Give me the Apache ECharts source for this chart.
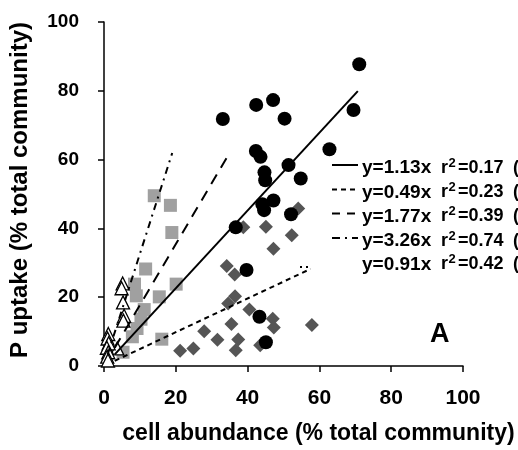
<!DOCTYPE html>
<html>
<head>
<meta charset="utf-8">
<script src="https://cdn.jsdelivr.net/npm/echarts@6/dist/echarts.min.js"></script>
<style>html,body{margin:0;padding:0;background:#fff}#c{width:518px;height:450px}</style>
</head>
<body>
<div id="c"></div>
<script>
// ---- data ----
var circles = [[71.1,87.7],[69.5,74.4],[33.1,71.8],[42.4,75.9],[47.1,77.3],[50.3,71.9],[62.8,63.0],[42.3,62.5],[43.6,60.8],[51.4,58.4],[44.7,56.3],[44.9,54.0],[54.8,54.5],[47.2,48.1],[44.1,47.0],[44.6,45.3],[52.1,44.1],[36.7,40.3],[39.7,27.9],[43.3,14.3],[45.1,6.9]];
var diamonds = [[21.2,4.4],[24.9,5.1],[27.9,10.1],[31.6,7.6],[34.2,29.1],[36.4,26.6],[36.5,20.3],[34.6,18.2],[40.5,16.4],[35.5,12.2],[37.4,7.7],[36.7,4.6],[43.5,6.0],[47.0,13.7],[47.3,11.2],[57.9,11.9],[38.8,40.3],[45.1,40.5],[52.3,38.0],[47.2,34.1],[54.1,45.8]];
var squares = [[14.0,49.5],[18.5,46.7],[18.9,38.8],[11.6,28.2],[20.1,23.8],[8.5,23.8],[15.4,20.1],[9.0,20.4],[11.2,16.4],[10.3,13.6],[9.2,10.9],[7.9,8.5],[16.1,7.8],[5.3,4.0]];
var triangles = [[5.2,24.0],[4.9,22.6],[5.3,18.5],[5.6,14.6],[5.4,13.2],[3.7,5.1],[1.2,9.3],[1.0,8.0],[1.3,6.6],[0.8,5.3],[1.2,4.0],[0.9,2.7],[1.1,1.6]];
// regression line end points
var lineSolid = [[3.0,3.4],[70.7,79.9]];
var lineShortDash = [[3.0,1.5],[57.5,28.2]];
var lineLongDash = [[3.0,5.3],[34.5,61.1]];
var lineDashDot = [[1.0,3.3],[19.0,61.9]];
// legend texts
var legendEq = ['y=1.13x', 'y=0.49x', 'y=1.77x', 'y=3.26x', 'y=0.91x'];
var legendR2 = ['0.17', '0.23', '0.39', '0.74', '0.42'];
var xTicks = [0,20,40,60,80,100];
var yTicks = [0,20,40,60,80,100];
var xTitle = 'cell abundance (% total community)';
var yTitle = 'P uptake (% total community)';
var panelLabel = 'A';

var FONT = '"Liberation Sans", Arial, Helvetica, sans-serif';
var chart = echarts.init(document.getElementById('c'), null, {renderer:'canvas'});
function lineSeries(name, data, type, z) {
  return {type:'line', name:name, data:data, symbol:'none', z:z, silent:true, animation:false,
    lineStyle:{color:'#000', width:2, type:type}};
}
function txt(x, y, s, size) {
  return {type:'text', silent:true, x:x, y:y, z:10,
    style:{text:s, fill:'#000', font:'bold ' + size + 'px ' + FONT, textAlign:'left', textVerticalAlign:'middle', verticalAlign:'middle'}};
}
var legendDash = [null, [5,4], [8,7], [8,5,2,5], [2,4]];
var legendTextY = [168, 192.5, 216.5, 241, 264.5];
var legendLineY = [165, 189.5, 213.5, 238, 267];
var graphics = [];
for (var i = 0; i < legendEq.length; i++) {
  var y = legendTextY[i];
  var x1 = i === 4 ? 300 : 332, x2 = i === 4 ? 309 : 358;
  var ly = legendLineY[i];
  var ls = {stroke:'#000', lineWidth:2};
  if (legendDash[i]) ls.lineDash = legendDash[i];
  graphics.push({type:'line', silent:true, shape:{x1:x1, y1:ly, x2:x2, y2:ly}, style:ls, z:10});
  graphics.push(txt(362, y, legendEq[i], 19));
  graphics.push(txt(441, y, 'r', 18));
  graphics.push(txt(448.5, y - 5, '2', 13));
  graphics.push(txt(458, y, '=' + legendR2[i], 18));
  graphics.push(txt(513, y, '(', 18));
}
chart.setOption({
  animation:false,
  backgroundColor:'#fff',
  grid:{left:104, right:55, top:22, bottom:84, containLabel:false},
  xAxis:{type:'value', min:xTicks[0], max:xTicks[xTicks.length-1], interval:20,
    axisLine:{show:true, onZero:false, lineStyle:{color:'#000', width:1.5}},
    axisTick:{show:true, inside:false, length:6, lineStyle:{color:'#000', width:1.5}},
    splitLine:{show:false},
    axisLabel:{color:'#000', fontFamily:FONT, fontWeight:'bold', fontSize:21, margin:22},
    name:xTitle, nameLocation:'middle', nameGap:56,
    nameTextStyle:{color:'#000', fontFamily:FONT, fontWeight:'bold', fontSize:23, padding:[0,0,0,70]}},
  yAxis:{type:'value', min:yTicks[0], max:yTicks[yTicks.length-1], interval:20,
    axisLine:{show:true, onZero:false, lineStyle:{color:'#000', width:1.5}},
    axisTick:{show:true, inside:false, length:6, lineStyle:{color:'#000', width:1.5}},
    splitLine:{show:false},
    axisLabel:{color:'#000', fontFamily:FONT, fontWeight:'bold', fontSize:19, margin:25},
    name:yTitle, nameLocation:'middle', nameGap:72, nameRotate:90,
    nameTextStyle:{color:'#000', fontFamily:FONT, fontWeight:'bold', fontSize:24, padding:[0,0,0,8]}},
  title:{text:panelLabel, left:430, top:321, padding:0,
    textStyle:{color:'#000', fontFamily:FONT, fontWeight:'bold', fontSize:27}},
  graphic:graphics,
  series:[
    {type:'scatter', name:'diamonds', data:diamonds, symbol:'diamond', symbolSize:14, clip:false, z:2,
      itemStyle:{color:'#555555', opacity:1}},
    {type:'scatter', name:'squares', data:squares, symbol:'rect', symbolSize:13, clip:false, z:3,
      itemStyle:{color:'#a0a0a0', opacity:1}},
    {type:'scatter', name:'triangles', data:triangles, symbol:'triangle', symbolSize:[13,13], clip:false, z:4,
      itemStyle:{color:'#fff', borderColor:'#000', borderWidth:1.3, opacity:1}},
    {type:'scatter', name:'circles', data:circles, symbol:'circle', symbolSize:14, clip:false, z:5,
      itemStyle:{color:'#000', opacity:1}},
    lineSeries('fit1', lineSolid, 'solid', 6),
    lineSeries('fit2', lineShortDash, [5,4], 6),
    lineSeries('fit3', lineLongDash, [11,8], 6),
    lineSeries('fit4', lineDashDot, [7,5,2,5], 6)
  ]
});
</script>
</body>
</html>
